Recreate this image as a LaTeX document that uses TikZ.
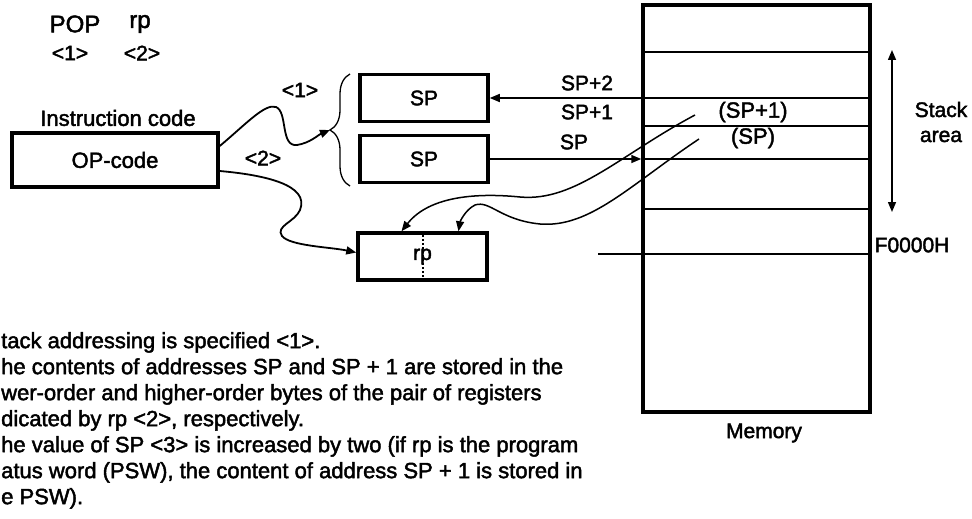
\documentclass[tikz,border=0pt]{standalone}
\usepackage{fontspec}
\setmainfont{Liberation Sans}[FakeBold=2]
\usetikzlibrary{arrows.meta,positioning,decorations.pathreplacing}

\begin{document}
\begin{tikzpicture}[
  x=1pt, y=-1pt,
  every node/.style={font=\fontsize{21}{25}\selectfont, inner sep=0pt},
  regbox/.style={draw, line width=3.5pt, minimum width=128pt, minimum height=47pt},
  cellline/.style={line width=1.3pt},
  arrow/.style={-{Triangle[length=10pt,width=8pt]}, line width=1.5pt},
  wavy/.style={arrow, line width=1.8pt},
  big/.style={font=\fontsize{24}{28}\selectfont}
]
\useasboundingbox (0,0) rectangle (972,519);

% instruction
\node[big] (pop) at (75,24) {POP};
\node[big] (rpname) at (140,24) {rp};
\node (n1) at (70,53) {<1>};
\node (n2) at (142,53) {<2>};
\node (inscode) at (118,118) {\fontsize{22}{26}\selectfont Instruction code};
\node[regbox, minimum width=206pt, minimum height=54pt, font=\fontsize{22}{26}\selectfont] (opc) at (115,160) {OP-code};

% registers
\node[regbox] (spa) at (424,98) {SP};
\node[regbox] (spb) at (424,159) {SP};
\node[regbox, minimum width=129pt] (rp) at (422.5,256.5) {rp};
\draw[dotted, line width=2pt] (rp.north) -- (rp.south);
\draw[decorate, decoration={brace, amplitude=20pt}, line width=1.3pt]
  (350,186) -- (350,74);
\coordinate (brtip) at (330,130);
\node (lbl1) at (300,90) {<1>};
\node (lbl2) at (263,158) {<2>};

% memory
\node[draw, line width=3.5pt, minimum width=227pt, minimum height=407pt] (mem) at (756.5,208.5) {};
\foreach \y in {52,98,159,209}
  \draw[cellline] (mem.west |- 0,\y) -- (mem.east |- 0,\y);
\draw[line width=2.6pt] (mem.west |- 0,126) -- (mem.east |- 0,126);
\coordinate (fline) at (598,254);
\draw[cellline] (fline) -- (mem.east |- fline);
\node (sp1cell) at (753,112) {\fontsize{22}{26}\selectfont (SP+1)};
\node (spcell) at (753,138) {\fontsize{22}{26}\selectfont (SP)};
\node (memname) at (764,433) {Memory};
\node (faddr) at (912,245) {F0000H};
\node[align=center, font=\fontsize{21}{25}\selectfont] (stackname) at (941,122) {Stack\\area};
\coordinate (stacktop) at (892,50);
\coordinate (stackbot) at (892,212);
\draw[{Triangle[length=10pt,width=8pt]}-{Triangle[length=10pt,width=8pt]}, line width=1.5pt] (stacktop) -- (stackbot);

% addresses
\node (ladd2) at (587,83) {SP+2};
\node (ladd1) at (587,112) {SP+1};
\node (ladd0) at (574,142) {SP};
\draw[arrow] (mem.west |- spa.east) -- (spa.east);
\draw[arrow] (spb.east) -- (spb.east -| mem.west);

% transfers
\draw[wavy] ([yshift=14pt]opc.east) .. controls (245,125) and (265,103) .. (276,107)
  .. controls (288,112) and (280,147) .. (297,145)
  .. controls (310,143) and (318,135) .. (brtip);
\draw[wavy] ([yshift=-11pt]opc.east) .. controls (265,175) and (310,185) .. (300,210)
  .. controls (295,222) and (275,226) .. (282,236)
  .. controls (290,246) and (330,247) .. ([yshift=4pt]rp.west);
\coordinate (srcA) at (695,115);
\coordinate (srcB) at (699,139);
\draw[arrow] (srcA) .. controls (620,155) and (575,202) .. (520,197)
  .. controls (480,193) and (430,195) .. ([xshift=-21pt]rp.north);
\draw[arrow] (srcB) .. controls (630,185) and (590,228) .. (540,224)
  .. controls (500,220) and (490,200) .. (475,205)
  .. controls (465,210) and (460,222) .. ([xshift=36pt]rp.north);

% notes
\node[anchor=north west, align=left, font=\fontsize{22}{26}\selectfont] (notes) at (1,332) {%
tack addressing is specified <1>.\\
he contents of addresses SP and SP + 1 are stored in the\\
wer-order and higher-order bytes of the pair of registers\\
dicated by rp <2>, respectively.\\
he value of SP <3> is increased by two (if rp is the program\\
atus word (PSW), the content of address SP + 1 is stored in\\
e PSW).};
\end{tikzpicture}
\end{document}
